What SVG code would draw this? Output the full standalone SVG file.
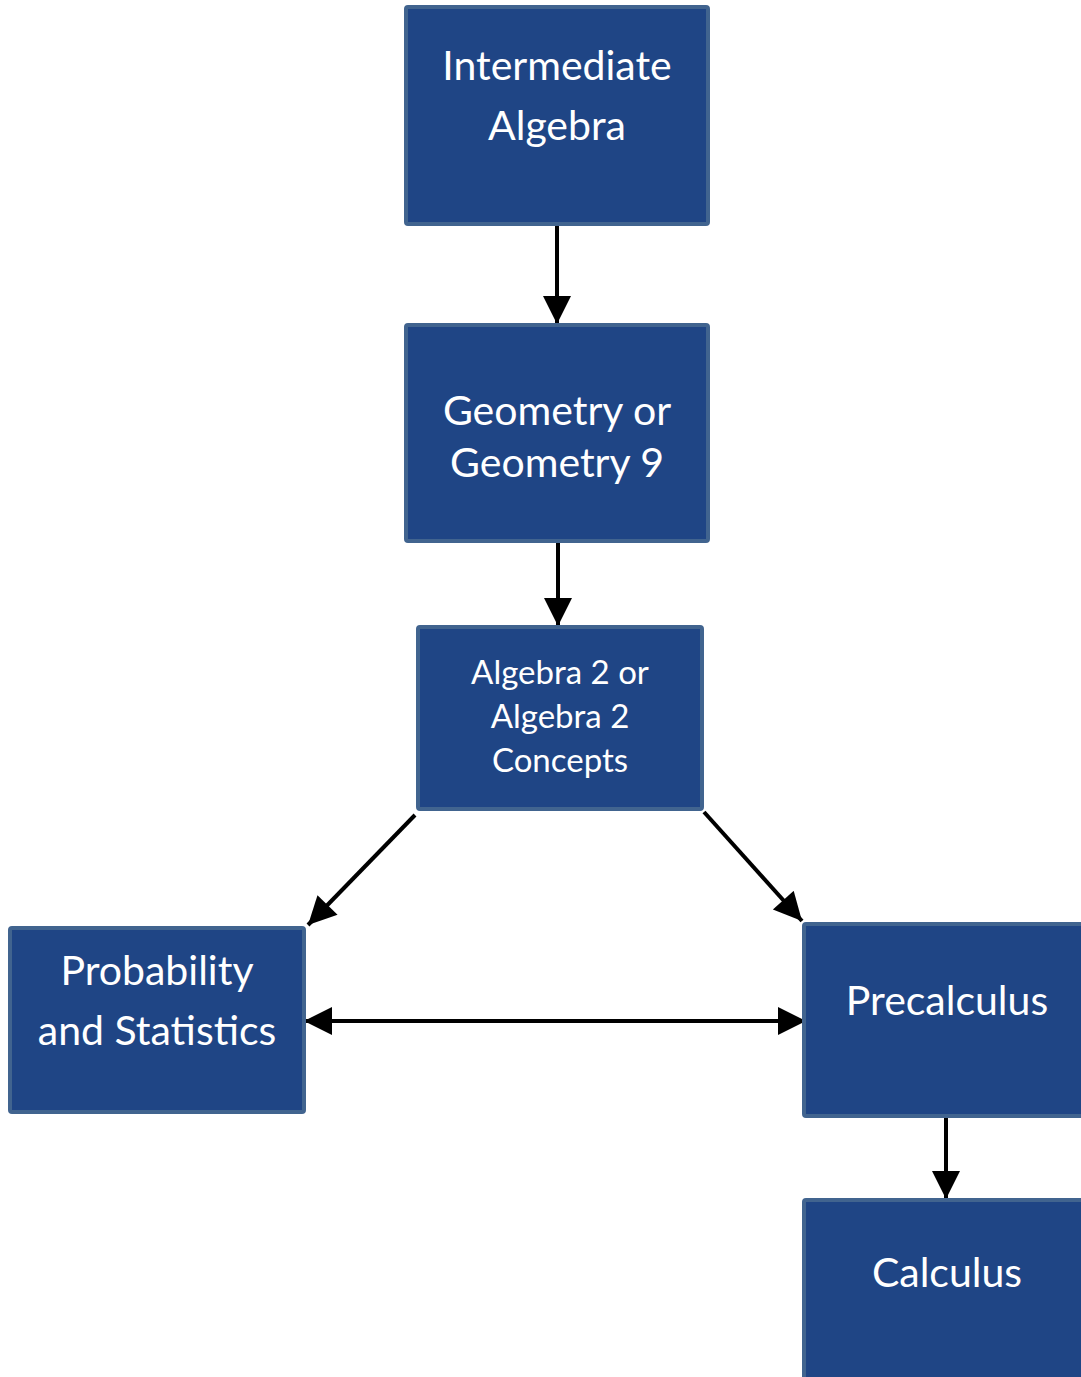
<svg xmlns="http://www.w3.org/2000/svg" width="1081" height="1377" viewBox="0 0 1081 1377">
  <style>
    .box { fill: #1f4585; stroke: #41648f; stroke-width: 4; }
    .lbl { fill: #ffffff; font-family: Lato, "Open Sans", "Liberation Sans", sans-serif; text-anchor: middle; }
    .big { font-size: 41px; }
    .small { font-size: 33px; }
    .link { stroke: #000000; stroke-width: 4; fill: none; }
  </style>
  <defs>
    <marker id="head" viewBox="0 0 10 10" refX="10" refY="5" markerUnits="userSpaceOnUse" markerWidth="30" markerHeight="28" orient="auto-start-reverse">
      <path d="M0,0 L10,5 L0,10 Z" fill="#000000"/>
    </marker>
  </defs>
  <rect width="1081" height="1377" fill="#ffffff"/>

  <g id="connectors">
    <line class="link" x1="557" y1="225" x2="557" y2="324" marker-end="url(#head)"/>
    <line class="link" x1="558" y1="542" x2="558" y2="626" marker-end="url(#head)"/>
    <line class="link" x1="415" y1="815" x2="308" y2="925" marker-end="url(#head)"/>
    <line class="link" x1="704" y1="812" x2="802" y2="921" marker-end="url(#head)"/>
    <line class="link" x1="304" y1="1021" x2="806" y2="1021" marker-start="url(#head)" marker-end="url(#head)"/>
    <line class="link" x1="946" y1="1117" x2="946" y2="1199" marker-end="url(#head)"/>
  </g>

  <g id="node-intermediate-algebra">
    <rect class="box" x="406" y="7" width="302" height="217" rx="2"/>
    <text class="lbl big" x="557" y="80">Intermediate</text>
    <text class="lbl big" x="557" y="140">Algebra</text>
  </g>

  <g id="node-geometry">
    <rect class="box" x="406" y="325" width="302" height="216" rx="2"/>
    <text class="lbl big" x="557" y="425">Geometry or</text>
    <text class="lbl big" x="557" y="477">Geometry 9</text>
  </g>

  <g id="node-algebra-2">
    <rect class="box" x="418" y="627" width="284" height="182" rx="2"/>
    <text class="lbl small" x="560" y="684">Algebra 2 or</text>
    <text class="lbl small" x="560" y="728">Algebra 2</text>
    <text class="lbl small" x="560" y="772">Concepts</text>
  </g>

  <g id="node-probability">
    <rect class="box" x="10" y="928" width="294" height="184" rx="2"/>
    <text class="lbl big" x="157" y="985">Probability</text>
    <text class="lbl big" x="157" y="1045">and Statistics</text>
  </g>

  <g id="node-precalculus">
    <rect class="box" x="804" y="924" width="282" height="192" rx="2"/>
    <text class="lbl big" x="947" y="1015">Precalculus</text>
  </g>

  <g id="node-calculus">
    <rect class="box" x="804" y="1200" width="282" height="190" rx="2"/>
    <text class="lbl big" x="947" y="1287">Calculus</text>
  </g>
</svg>
